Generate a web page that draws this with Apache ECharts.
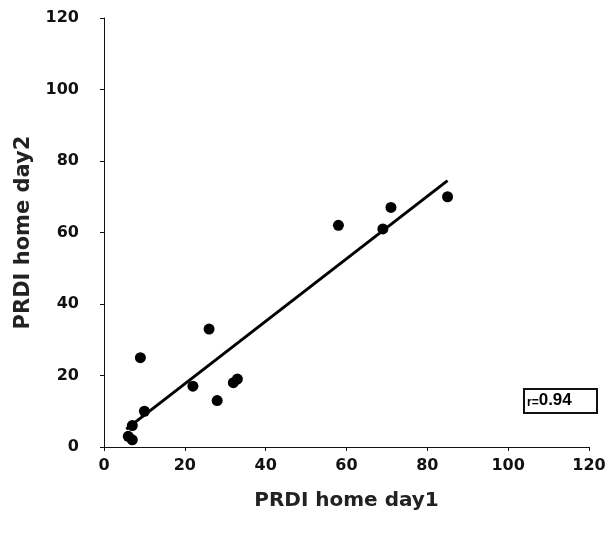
<!DOCTYPE html>
<html>
<head>
<meta charset="utf-8">
<script src="https://cdn.jsdelivr.net/npm/echarts@6/dist/echarts.min.js"></script>
<style>
  html, body { margin: 0; padding: 0; background: #fff; }
  #chart { width: 616px; height: 533px; }
</style>
</head>
<body>
<div id="chart"></div>
<script>
// PRDI home day1 vs day2
const day1 = [6, 7, 7, 10, 9, 22, 26, 28, 32, 33, 58, 69, 71, 85]
const day2 = [3, 2, 6, 10, 25, 17, 33, 13, 18, 19, 62, 61, 67, 70]
// fitted line end points
const fitX = [5.5, 85]
const fitY = [5, 74.5]
const axisTicks = [0, 20, 40, 60, 80, 100, 120]
const rName = 'r='
const rValue = '0.94'

const points = day1.map((x, i) => [x, day2[i]])
const fit = fitX.map((x, i) => [x, fitY[i]])

const chart = echarts.init(document.getElementById('chart'), null, { renderer: 'canvas' })

const font = '"DejaVu Sans", Arial, sans-serif'
const axisStyle = {
  axisLine: { show: true, lineStyle: { color: '#111', width: 1 } },
  axisTick: { show: true, length: 4, lineStyle: { color: '#111' } },
  splitLine: { show: false },
  axisLabel: {
    color: '#111',
    fontFamily: font,
    fontWeight: 'bold',
    fontSize: 16,
  },
  nameTextStyle: {
    color: '#222',
    fontFamily: font,
    fontWeight: 'bold',
    fontSize: 20,
  },
}

chart.setOption({
  animation: false,
  grid: { left: 104, right: 27, top: 18, bottom: 86 },
  xAxis: {
    type: 'value',
    min: axisTicks[0],
    max: axisTicks[axisTicks.length - 1],
    interval: 20,
    name: 'PRDI home day1',
    nameLocation: 'middle',
    nameGap: 44,
    ...axisStyle,
    axisLabel: { ...axisStyle.axisLabel, margin: 11 },
  },
  yAxis: {
    type: 'value',
    min: axisTicks[0],
    max: axisTicks[axisTicks.length - 1],
    interval: 20,
    name: 'PRDI home day2',
    nameLocation: 'middle',
    nameGap: 70,
    ...axisStyle,
    axisLabel: { ...axisStyle.axisLabel, margin: 25 },
    nameTextStyle: { ...axisStyle.nameTextStyle, fontSize: 21 },
  },
  series: [
    {
      type: 'scatter',
      data: points,
      symbolSize: 11,
      itemStyle: { color: '#000', opacity: 1 },
      z: 3,
    },
    {
      type: 'line',
      data: fit,
      symbol: 'none',
      lineStyle: { color: '#000', width: 3 },
      z: 2,
    },
  ],
  graphic: [
    {
      type: 'rect',
      left: 523,
      top: 388,
      shape: { width: 73, height: 24 },
      style: { fill: '#fff', stroke: '#111', lineWidth: 2 },
    },
    {
      type: 'text',
      left: 527,
      top: 392,
      style: {
        text: '{a|' + rName + '}{b|' + rValue + '}',
        rich: {
          a: { fill: '#000', fontFamily: 'Liberation Sans, Arial, sans-serif', fontWeight: 'bold', fontSize: 12, verticalAlign: 'bottom' },
          b: { fill: '#000', fontFamily: 'Liberation Sans, Arial, sans-serif', fontWeight: 'bold', fontSize: 17 },
        },
      },
    },
  ],
})
</script>
</body>
</html>
